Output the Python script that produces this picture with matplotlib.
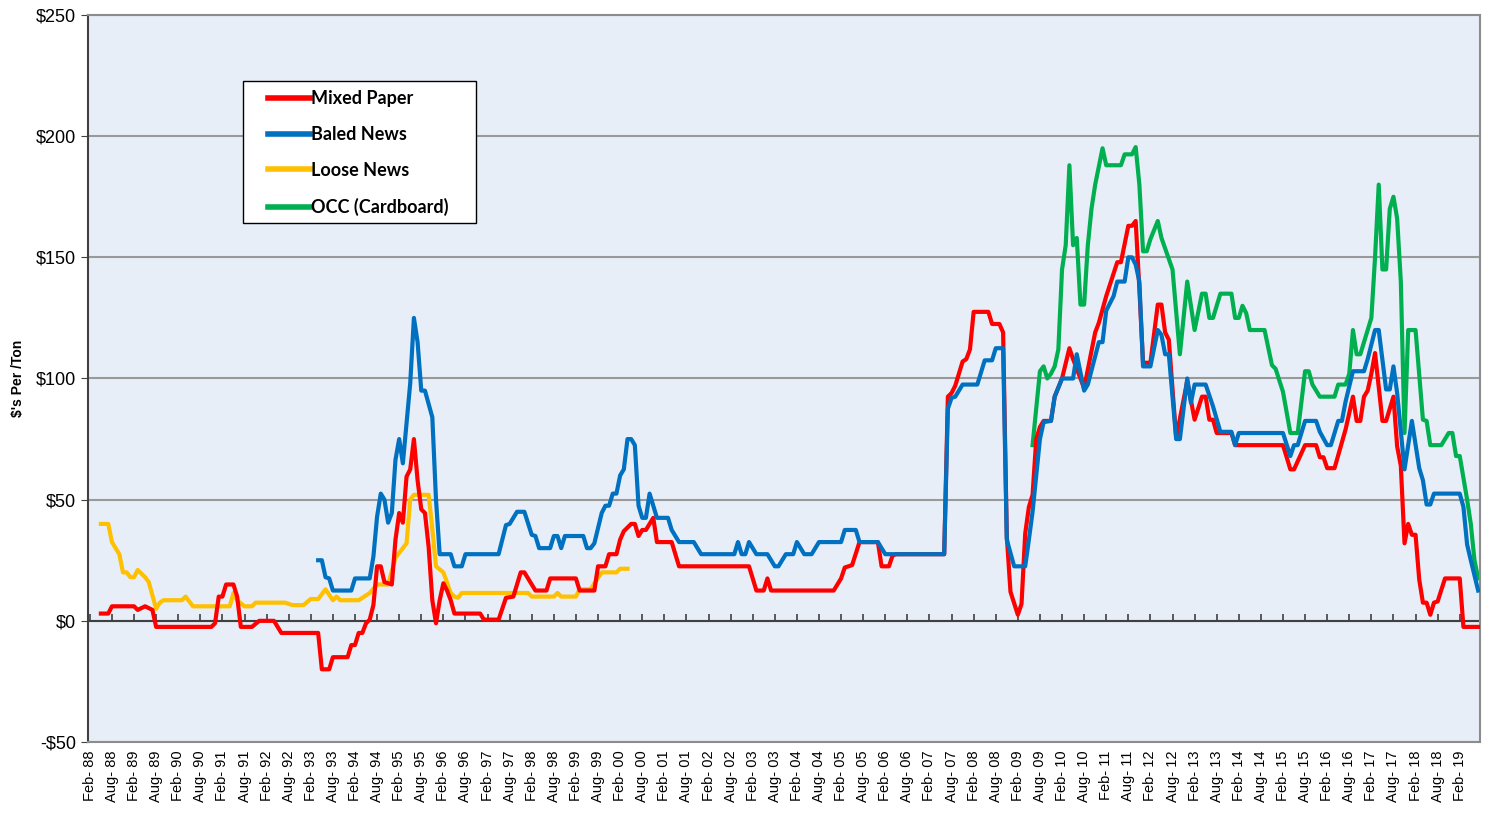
import matplotlib
matplotlib.use("Agg")
import matplotlib.pyplot as plt
from matplotlib.patches import Rectangle

# month index: 0 = Feb-1988, 377 = Jul-2019
n_months = 378

# Mixed Paper ($/ton) at month indexes where the price changes
mixed_m = [3, 5, 6, 12, 13, 15, 17, 18, 33, 34, 35, 36, 37, 39, 40, 41, 44, 46, 50, 52,
           62, 63, 65, 66, 70, 71, 72, 73, 74, 75, 76, 77, 78, 79, 80, 82, 83, 84, 85, 86,
           87, 88, 89, 90, 91, 92, 93, 94, 95, 96, 97, 98, 99, 106, 107, 111, 113, 115, 117, 118,
           119, 121, 124, 125, 132, 133, 137, 138, 140, 141, 143, 144, 145, 147, 148, 149, 150, 151, 153, 154,
           158, 160, 179, 181, 183, 184, 185, 202, 204, 205, 207, 209, 214, 215, 217, 218, 219, 232, 233, 234,
           235, 237, 238, 239, 240, 244, 245, 247, 248, 249, 250, 252, 253, 254, 255, 256, 257, 258, 259, 261,
           262, 264, 266, 267, 270, 273, 274, 276, 279, 280, 282, 283, 284, 285, 286, 288, 290, 291, 292, 293,
           295, 298, 300, 302, 303, 304, 305, 306, 310, 311, 324, 326, 327, 330, 333, 334, 335, 336, 338, 341,
           343, 344, 345, 346, 347, 348, 349, 351, 352, 354, 355, 356, 357, 358, 359, 360, 361, 362, 363, 364,
           365, 366, 368, 372, 373, 377]
mixed_v = [3, 3, 6, 6, 4.5, 6, 4.5, -2.5, -2.5, -1, 10, 10, 15, 15, 10, -2.5, -2.5, 0, 0, -5,
           -5, -20, -20, -15, -15, -10, -10, -5, -5, -1, 0.5, 6.5, 22.5, 22.5, 16, 15, 33.5, 44.5, 40.5, 59.5,
           62.5, 75, 58, 46, 44.5, 30.5, 8.5, -1, 8.5, 15.5, 12.5, 8.5, 3, 3, 0.5, 0.5, 9.5, 10, 20, 20,
           17.5, 12.5, 12.5, 17.5, 17.5, 12.5, 12.5, 22.5, 22.5, 27.5, 27.5, 33.5, 37, 40, 40, 35, 37.5, 37.5, 42.5, 32.5,
           32.5, 22.5, 22.5, 12.5, 12.5, 17.5, 12.5, 12.5, 17.5, 22, 23, 32.5, 32.5, 22.5, 22.5, 27, 27.5, 27.5, 92.5, 94,
           97, 107, 108, 112, 127.5, 127.5, 122.5, 122.5, 119, 35, 12, 2.5, 7, 36, 47, 52, 75, 80, 82.5, 82.5,
           92.5, 100, 112.5, 108, 96, 119, 123, 134, 148, 148, 163, 163, 165, 137, 106.5, 106.5, 130.5, 130.5, 119, 116,
           75.5, 99, 83, 92.5, 92.5, 83, 83, 77.5, 77.5, 72.5, 72.5, 62.5, 62.5, 72.5, 72.5, 67.5, 67.5, 63, 63, 79,
           92.5, 82.5, 82.5, 92.5, 95, 102, 110.5, 82.5, 82.5, 92.5, 72, 64, 32, 40, 35.5, 35.5, 17, 7.5, 7.5, 2.5,
           7.5, 8, 17.5, 17.5, -2.5, -2.5]

# Baled News
baled_m = [62, 63, 64, 65, 66, 71, 72, 76, 77, 78, 79, 80, 81, 82, 83, 84, 85, 87, 88, 89,
           90, 91, 93, 94, 95, 98, 99, 101, 102, 111, 113, 114, 116, 118, 120, 121, 122, 125, 126, 127,
           128, 129, 134, 135, 136, 137, 139, 140, 141, 142, 143, 144, 145, 146, 147, 148, 149, 150, 151, 152,
           153, 154, 157, 158, 160, 164, 166, 175, 176, 177, 178, 179, 181, 184, 186, 187, 189, 191, 192, 194,
           196, 198, 204, 205, 208, 209, 214, 216, 232, 233, 234, 235, 237, 241, 243, 245, 246, 248, 249, 251,
           254, 255, 256, 257, 258, 259, 261, 262, 264, 267, 268, 270, 271, 274, 275, 276, 278, 279, 281, 282,
           283, 284, 285, 286, 288, 290, 291, 292, 293, 295, 296, 298, 299, 300, 303, 305, 307, 310, 311, 312,
           324, 326, 327, 328, 330, 333, 334, 336, 337, 339, 340, 341, 343, 346, 347, 349, 350, 352, 353, 354,
           355, 357, 359, 361, 362, 363, 364, 365, 372, 373, 374, 375, 377]
baled_v = [25, 25, 18, 17.5, 12.5, 12.5, 17.5, 17.5, 26.5, 43, 52.5, 50, 40.5, 44.5, 66.5, 75, 65, 98, 125, 115,
           95, 95, 84, 50, 27.5, 27.5, 22.5, 22.5, 27.5, 27.5, 39.5, 40, 45, 45, 35.5, 35, 30, 30, 35, 35,
           30, 35, 35, 30, 30, 32, 44.5, 47.5, 47.5, 52.5, 52.5, 60, 62.5, 75, 75, 72.5, 47.5, 42.5, 42.5, 52.5,
           47.5, 42.5, 42.5, 37.5, 32.5, 32.5, 27.5, 27.5, 32.5, 27.5, 27.5, 32.5, 27.5, 27.5, 22.5, 22.5, 27.5, 27.5, 32.5, 27.5,
           27.5, 32.5, 32.5, 37.5, 37.5, 32.5, 32.5, 27.5, 27.5, 87.5, 92, 92.5, 97.5, 97.5, 107.5, 107.5, 112.5, 112.5, 33.5, 22.5,
           22.5, 33.5, 45, 60, 75, 82, 82.5, 92.5, 100, 100, 110, 95, 97.5, 115, 115, 128, 134, 140, 140, 150,
           150, 147, 140, 105, 105, 120, 118, 110, 110, 75, 75, 100, 90, 97.5, 97.5, 88.5, 78, 78, 72.5, 77.5,
           77.5, 68, 72.5, 72.5, 82.5, 82.5, 78, 72.5, 72.5, 82.5, 82.5, 90.5, 103, 103, 108, 120, 120, 95.5, 95.5, 105,
           94, 62.5, 82.5, 63, 58, 48, 48, 52.5, 52.5, 47, 31.5, 25, 12.5]

# Loose News
loose_m = [3, 5, 6, 7, 8, 9, 10, 11, 12, 13, 15, 16, 18, 19, 20, 25, 26, 28, 38, 39,
           40, 42, 44, 45, 53, 55, 58, 60, 62, 64, 66, 67, 68, 73, 75, 76, 78, 81, 83, 85,
           86, 87, 88, 92, 93, 94, 96, 98, 99, 100, 101, 119, 120, 126, 127, 128, 132, 133, 136, 137,
           139, 143, 144, 146]
loose_v = [40, 40, 32.5, 30, 27.5, 20, 20, 18, 18, 21, 18, 16, 5, 7.5, 8.5, 8.5, 10, 6, 6, 11.5,
           8.5, 6, 6, 7.5, 7.5, 6.5, 6.5, 9, 9, 13, 8.5, 10, 8.5, 8.5, 10.5, 11.5, 15, 15, 26, 30,
           32, 50, 52, 52, 38, 22.5, 20, 11.5, 10, 9.5, 11.5, 11.5, 10, 10, 11.5, 10, 10, 13, 13, 15.5,
           20, 20, 21.5, 21.5]

# OCC (Cardboard)
occ_m = [256, 258, 259, 260, 261, 262, 263, 264, 265, 266, 267, 268, 269, 270, 271, 272, 273, 275, 276, 280,
         281, 283, 284, 285, 286, 287, 288, 290, 291, 294, 296, 298, 300, 302, 303, 304, 305, 307, 309, 310,
         311, 312, 313, 314, 315, 319, 321, 322, 324, 326, 328, 330, 331, 332, 334, 338, 339, 341, 342, 343,
         344, 345, 348, 349, 350, 351, 352, 353, 354, 355, 356, 357, 358, 360, 362, 363, 364, 367, 369, 370,
         371, 372, 374, 375, 376, 377]
occ_v = [72.5, 103, 105, 100, 102, 105, 112, 145, 155, 188, 155, 158, 130.5, 130.5, 155, 170, 180, 195, 188, 188,
         192.5, 192.5, 195.5, 180, 152.5, 152.5, 157.5, 165, 158, 145, 110, 140, 120, 135, 135, 125, 125, 135, 135, 135,
         125, 125, 130, 127, 120, 120, 105.5, 104, 94.5, 77.5, 77.5, 103, 103, 97.5, 92.5, 92.5, 97.5, 97.5, 102, 120,
         110, 110, 125, 150, 180, 145, 145, 170, 175, 166, 140, 77.5, 120, 120, 83, 82.5, 72.5, 72.5, 77.5, 77.5,
         68, 68, 50, 40, 25, 17.5]

month_names = ["Feb", "Aug"]
tick_pos = list(range(0, n_months, 6))
tick_labels = [f"{month_names[(p // 6) % 2]}- {(88 + p // 12) % 100:02d}" for p in tick_pos]

fig = plt.figure(figsize=(14.92, 8.15), dpi=100)
ax = fig.add_axes([88 / 1492, 1 - 742 / 815, (1480 - 88) / 1492, (742 - 15) / 815])
ax.set_facecolor("#E8EEF8")

ax.plot(mixed_m, mixed_v, color="#FF0000", lw=3, label="Mixed Paper", zorder=4)
ax.plot(baled_m, baled_v, color="#0070C0", lw=3, label="Baled News", zorder=5)
ax.plot(loose_m, loose_v, color="#FFC000", lw=3, label="Loose News", zorder=3)
ax.plot(occ_m, occ_v, color="#00B050", lw=3, label="OCC (Cardboard)", zorder=2)

ax.set_xlim(-0.5, n_months - 0.5)
ax.set_ylim(-50, 250)
ax.set_yticks(range(-50, 251, 50))
ax.set_yticklabels([f"${v}" if v >= 0 else f"-${-v}" for v in range(-50, 251, 50)],
                   fontsize=13, family="Liberation Sans")
ax.yaxis.grid(True, color="#999999", lw=1.5)
ax.set_axisbelow(True)
ax.tick_params(axis="y", direction="out", length=5, color="#404040")

ax.set_xticks(tick_pos)
ax.set_xticklabels(tick_labels, rotation=90, fontsize=10.5, family="Liberation Sans")
ax.tick_params(axis="x", length=0, pad=6)

# zero line with small upward tick marks at the category ticks
ax.axhline(0, color="#404040", lw=1.5, zorder=1)
ax.plot(tick_pos, [0] * len(tick_pos), ls="none", marker=2, markersize=5,
        markeredgewidth=1.2, color="#404040", zorder=1)

for side in ["top", "right", "bottom"]:
    ax.spines[side].set_color("#8C8C8C")
    ax.spines[side].set_linewidth(1.5)
ax.spines["left"].set_color("#404040")
ax.spines["left"].set_linewidth(1.5)

ax.set_ylabel("$'s Per /Ton", fontsize=10, fontweight="bold", family="Liberation Sans", labelpad=8)

# legend box
ax.add_patch(Rectangle((0.111, 0.714), 0.168, 0.195, transform=ax.transAxes,
                       facecolor="white", edgecolor="black", lw=1.0, zorder=6))
leg = ax.legend(loc="upper left", bbox_to_anchor=(0.1293, 0.897), frameon=False,
                handlelength=2.3, handletextpad=0.1, labelspacing=1.05, borderpad=0,
                borderaxespad=0, prop={"family": "Lato", "weight": "bold", "size": 13})
leg.set_zorder(7)
for line in leg.get_lines():
    line.set_linewidth(4)

fig.savefig("out.png", dpi=100)
